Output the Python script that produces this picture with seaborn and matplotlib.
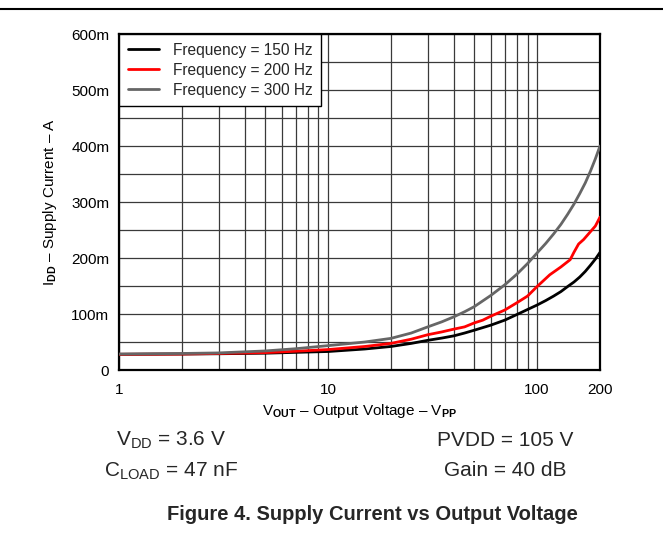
import numpy as np
import pandas as pd
import matplotlib
matplotlib.use("Agg")
import matplotlib.pyplot as plt
from matplotlib.lines import Line2D
import seaborn as sns

# ---- data (current in mA) ----
series_labels = ["Frequency = 150 Hz", "Frequency = 200 Hz", "Frequency = 300 Hz"]
series_colors = ["#000000", "#ff0000", "#666666"]

v_150 = [1, 2, 3, 5, 7, 10, 15, 20, 25, 30, 35, 40, 45, 50, 60, 70, 80, 90, 100,
         110, 120, 130, 140, 150, 160, 170, 180, 190, 200]
i_150 = [28, 28.5, 29, 30, 31.5, 33, 37.5, 42, 47.5, 53, 57, 61, 66, 71, 80, 89, 99, 108, 116,
         124, 132, 140, 149, 157, 166, 176, 187, 198, 210]

v_200 = [1, 2, 3, 5, 7, 10, 15, 20, 25, 30, 35, 40, 45, 50, 55, 60, 70, 80, 90, 100,
         115, 130, 144, 150, 158, 167, 180, 190, 200]
i_200 = [28, 28.5, 29.5, 31, 33.5, 36.5, 42, 47.5, 55, 63, 68, 73, 77, 84, 89, 96, 107, 120, 132, 149,
         170, 184, 197, 210, 225, 233, 247, 257, 273]

v_300 = [1, 2, 3, 5, 7, 10, 15, 20, 25, 30, 35, 40, 45, 50, 60, 70, 80, 90, 100,
         110, 120, 130, 140, 150, 160, 170, 180, 190, 200]
i_300 = [28.5, 29.5, 30.5, 34, 38, 43.5, 50, 56.5, 66, 77, 86, 95, 104, 113, 133, 152, 171, 190, 209,
         226, 243, 260, 278, 296, 315, 334, 355, 377, 400]

x_ticks = [1, 10, 100, 200]
x_tick_labels = ["1", "10", "100", "200"]
y_ticks_mA = [0, 100, 200, 300, 400, 500, 600]
y_tick_labels = ["0", "100m", "200m", "300m", "400m", "500m", "600m"]

frames = []
for lab, v, i in zip(series_labels, [v_150, v_200, v_300], [i_150, i_200, i_300]):
    frames.append(pd.DataFrame({"V": v, "I": np.array(i) / 1000.0, "Frequency": lab}))
df = pd.concat(frames, ignore_index=True)

# ---- style ----
sns.set_theme(style="white")
plt.rcParams["font.family"] = ["Liberation Sans", "DejaVu Sans"]
plt.rcParams["mathtext.fontset"] = "custom"
plt.rcParams["mathtext.rm"] = "Liberation Sans"
plt.rcParams["mathtext.it"] = "Liberation Sans:italic"
plt.rcParams["mathtext.bf"] = "Liberation Sans:bold"

fig = plt.figure(figsize=(6.63, 5.33), dpi=100)
ax = fig.add_axes([119 / 663, 1 - 370 / 533, 481 / 663, 336 / 533])

sns.lineplot(data=df, x="V", y="I", hue="Frequency", palette=series_colors,
             hue_order=series_labels, estimator=None, sort=True,
             linewidth=2.0, ax=ax, legend=False, zorder=3)

ax.set_xscale("log")
ax.set_xlim(1, 200)
ax.set_ylim(0, 0.6)

ax.set_xticks(x_ticks)
ax.set_xticklabels(x_tick_labels)
minor_x = [m * d for d in (1, 10) for m in range(2, 10)]
ax.set_xticks(minor_x, minor=True)
ax.set_xticklabels([], minor=True)

ax.set_yticks([t / 1000 for t in y_ticks_mA])
ax.set_yticklabels(y_tick_labels)
ax.set_yticks([t / 1000 + 0.05 for t in y_ticks_mA[:-1]], minor=True)

ax.grid(True, which="both", color="#3a3a3a", linewidth=0.9)
ax.set_axisbelow(True)

ax.tick_params(axis="both", which="both", length=0, labelsize=11, colors="black")
ax.tick_params(axis="y", pad=7)
ax.tick_params(axis="x", pad=9)

for s in ax.spines.values():
    s.set_visible(True)
    s.set_color("black")
    s.set_linewidth(1.6)

ax.set_xlabel(r"V$_{\mathbf{OUT}}$ – Output Voltage – V$_{\mathbf{PP}}$", fontsize=11, color="black", labelpad=4)
ax.set_ylabel(r"I$_{\mathbf{DD}}$ – Supply Current – A", fontsize=11, color="black", labelpad=9)

handles = [Line2D([], [], color=c, linewidth=2.0) for c in series_colors]
leg = ax.legend(handles, series_labels, loc="upper left", bbox_to_anchor=(0, 1),
                borderaxespad=0.0, frameon=True, fancybox=False, framealpha=1.0,
                edgecolor="black", fontsize=11.2, handlelength=2.0, handletextpad=0.9,
                borderpad=0.55, labelspacing=0.33)
leg.get_frame().set_linewidth(1.0)
leg.set_zorder(5)

# ---- figure-level annotations ----
fig.add_artist(Line2D([0, 1], [1 - 8.5 / 533] * 2, color="black", linewidth=1.5,
                      transform=fig.transFigure))
fig.text(171 / 663, 1 - 440 / 533, r"V$_{\mathrm{DD}}$ = 3.6 V", fontsize=15, ha="center", va="center")
fig.text(171 / 663, 1 - 471 / 533, r"C$_{\mathrm{LOAD}}$ = 47 nF", fontsize=15, ha="center", va="center")
fig.text(505 / 663, 1 - 440 / 533, "PVDD = 105 V", fontsize=15, ha="center", va="center")
fig.text(505 / 663, 1 - 471 / 533, "Gain = 40 dB", fontsize=15, ha="center", va="center")
fig.text(372 / 663, 1 - 514 / 533, "Figure 4. Supply Current vs Output Voltage",
         fontsize=14.5, fontweight="bold", ha="center", va="center")

fig.savefig("out.png", dpi=100, facecolor="white")
